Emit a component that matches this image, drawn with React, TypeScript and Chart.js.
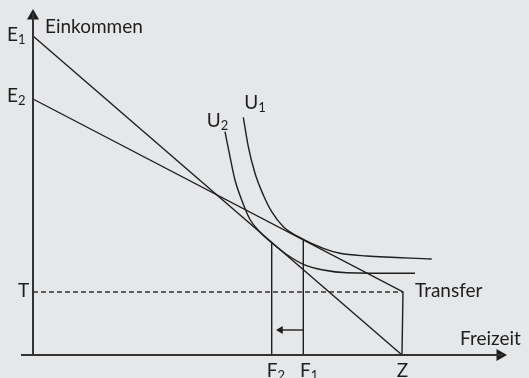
import { useEffect, useRef } from 'react';
import { Chart, registerables } from 'chart.js';
Chart.register(...registerables);

// Units: x = leisure (Freizeit), y = income (Einkommen); origin at axes crossing
const budgetE1 = [{ x: 0, y: 319 }, { x: 369, y: 0 }];
const budgetE2 = [{ x: 0, y: 256 }, { x: 370, y: 63 }, { x: 369, y: 0 }];
const transferLine = [{ x: 0, y: 63 }, { x: 370, y: 63 }];
const curveU1 = [
  { x: 210.3, y: 237.7 }, { x: 215.3, y: 208.3 }, { x: 222, y: 181.7 }, { x: 230.3, y: 160 },
  { x: 238.7, y: 143.3 }, { x: 250.3, y: 128.3 }, { x: 270.3, y: 115.7 }, { x: 290.3, y: 106.7 },
  { x: 307, y: 101.7 }, { x: 333.7, y: 99 }, { x: 398.7, y: 96 },
];
const curveU2 = [
  { x: 192, y: 223.3 }, { x: 197, y: 198.3 }, { x: 202, y: 175 }, { x: 208.7, y: 155 },
  { x: 217, y: 135.5 }, { x: 227, y: 123 }, { x: 238.7, y: 112.2 }, { x: 253.7, y: 100.5 },
  { x: 270.3, y: 90.7 }, { x: 290.3, y: 85 }, { x: 313.7, y: 82.3 }, { x: 382, y: 81.7 },
];
const leisureF1 = [{ x: 270.3, y: 0 }, { x: 270.3, y: 115.5 }];
const leisureF2 = [{ x: 238.7, y: 0 }, { x: 238.7, y: 112.5 }];
const shiftArrow = [{ x: 270.3, y: 25 }, { x: 247, y: 25 }];
const yAxisLine = [{ x: 0, y: 0 }, { x: 0, y: 342 }];
const xAxisLine = [{ x: -12, y: 0 }, { x: 470, y: 0 }];

type Lbl = { main: string; sub?: string; x: number; y: number };
const labels: Lbl[] = [
  { main: 'E', sub: '1', x: -26, y: 314 },
  { main: 'E', sub: '2', x: -26, y: 253 },
  { main: 'Einkommen', x: 12, y: 322.5 },
  { main: 'T', x: -15, y: 58 },
  { main: 'Transfer', x: 382, y: 58 },
  { main: 'Freizeit', x: 427, y: 10 },
  { main: 'F', sub: '2', x: 233.7, y: -21.5 },
  { main: 'F', sub: '1', x: 267, y: -21.5 },
  { main: 'Z', x: 363.7, y: -21.5 },
  { main: 'U', sub: '1', x: 211.3, y: 245.7 },
  { main: 'U', sub: '2', x: 173.7, y: 228.3 },
];

const FONT = 'Lato, "Open Sans", sans-serif';
const INK = '#1e1e1e';

const labelPlugin = {
  id: 'labels',
  afterDatasetsDraw(chart: any) {
    const { ctx, scales } = chart;
    ctx.save();
    ctx.fillStyle = INK;
    ctx.textBaseline = 'alphabetic';
    ctx.textAlign = 'left';
    for (const l of labels) {
      const px = scales.x.getPixelForValue(l.x);
      const py = scales.y.getPixelForValue(l.y);
      ctx.font = `19px ${FONT}`;
      ctx.fillText(l.main, px, py);
      if (l.sub) {
        const w = ctx.measureText(l.main).width;
        ctx.font = `13px ${FONT}`;
        ctx.fillText(l.sub, px + w, py + 3);
      }
    }
    ctx.restore();
  },
};

export default function App() {
  const ref = useRef<HTMLCanvasElement>(null);
  useEffect(() => {
    if (!ref.current) return;
    const line = (data: any[], extra: any = {}) => ({
      data,
      showLine: true,
      pointRadius: 0,
      borderColor: INK,
      borderWidth: 1.4,
      fill: false,
      clip: false,
      ...extra,
    });
    const head = (pt: any, rot: number, r: number) => ({
      data: [pt],
      showLine: false,
      pointStyle: 'triangle',
      pointRadius: r,
      pointRotation: rot,
      backgroundColor: INK,
      borderColor: INK,
      borderWidth: 0,
      clip: false,
    });
    const chart = new Chart(ref.current, {
      type: 'scatter',
      data: {
        datasets: [
          line(yAxisLine, { borderWidth: 2, borderColor: '#333' }),
          line(xAxisLine, { borderWidth: 2, borderColor: '#333' }),
          line(budgetE1),
          line(budgetE2),
          line(transferLine, { borderDash: [5, 3], borderWidth: 1.6, borderColor: '#333' }),
          line(curveU1, { cubicInterpolationMode: 'monotone' }),
          line(curveU2, { cubicInterpolationMode: 'monotone' }),
          line(leisureF1),
          line(leisureF2),
          line(shiftArrow),
          head({ x: 0, y: 339 }, 0, 7),
          head({ x: 467, y: 0 }, 90, 7),
          head({ x: 247.5, y: 25 }, 270, 4.5),
        ] as any,
      },
      options: {
        animation: false,
        responsive: false,
        maintainAspectRatio: false,
        devicePixelRatio: 1,
        layout: { padding: 0, autoPadding: false },
        events: [],
        plugins: { legend: { display: false }, tooltip: { enabled: false } },
        scales: {
          x: { type: 'linear', display: false, min: -33, max: 496 },
          y: { type: 'linear', display: false, min: -23, max: 355 },
        },
      },
      plugins: [labelPlugin],
    });
    return () => chart.destroy();
  }, []);
  return (
    <div style={{ position: 'absolute', left: 0, top: 0, width: 529, height: 378, background: '#e6e7e9' }}>
      <canvas ref={ref} width={529} height={378} />
    </div>
  );
}
